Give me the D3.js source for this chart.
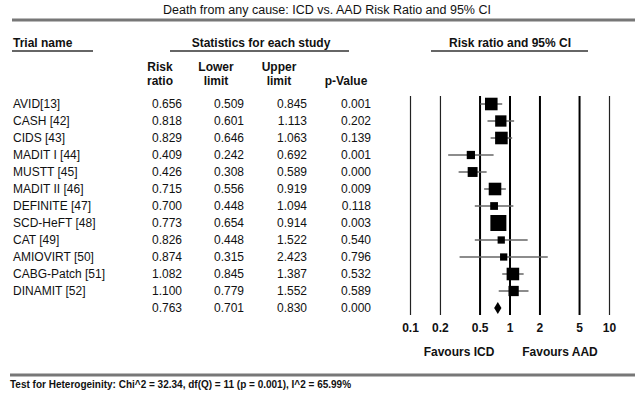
<!DOCTYPE html>
<html>
<head>
<meta charset="utf-8">
<script src="https://cdn.jsdelivr.net/npm/d3@7"></script>
<style>
  body { margin: 0; background: #fff; }
  text { font-family: "Liberation Sans", Arial, sans-serif; fill: #111; }
</style>
</head>
<body>
<div id="chart"></div>
<script>
// study data
const trials = ["AVID[13]", "CASH [42]", "CIDS [43]", "MADIT I [44]", "MUSTT [45]", "MADIT II [46]",
  "DEFINITE [47]", "SCD-HeFT [48]", "CAT [49]", "AMIOVIRT [50]", "CABG-Patch [51]", "DINAMIT [52]"];
const riskRatio = [0.656, 0.818, 0.829, 0.409, 0.426, 0.715, 0.700, 0.773, 0.826, 0.874, 1.082, 1.100];
const lowerLimit = [0.509, 0.601, 0.646, 0.242, 0.308, 0.556, 0.448, 0.654, 0.448, 0.315, 0.845, 0.779];
const upperLimit = [0.845, 1.113, 1.063, 0.692, 0.589, 0.919, 1.094, 0.914, 1.522, 2.423, 1.387, 1.552];
const pValue = [0.001, 0.202, 0.139, 0.001, 0.000, 0.009, 0.118, 0.003, 0.540, 0.796, 0.532, 0.589];
// relative weights
const weights = [10.5, 8.5, 10.5, 4.5, 6.5, 10.5, 4, 17, 3.5, 3.5, 10.5, 7];
const summary = { rr: 0.763, lo: 0.701, hi: 0.830, p: 0.000 };
const tickValues = [0.1, 0.2, 0.5, 1, 2, 5, 10];

const svg = d3.select("#chart")
  .append("svg")
  .attr("width", 635)
  .attr("height", 395);

// scales
const x = d3.scaleLog().domain([0.1, 10]).range([410, 609]);
const y = d3.scalePoint()
  .domain(d3.range(trials.length + 1))
  .range([104, 308]);
const size = d3.scaleSqrt().domain([0, d3.max(weights)]).range([0, 16]);

// title and rules
svg.append("text")
  .attr("x", 327).attr("y", 14)
  .attr("text-anchor", "middle")
  .style("font-size", "12.5px")
  .text("Death from any cause: ICD vs. AAD Risk Ratio and 95% CI");

svg.append("line")
  .attr("x1", 12).attr("x2", 635).attr("y1", 20).attr("y2", 20)
  .attr("stroke", "#777").attr("stroke-width", 3);

svg.append("line")
  .attr("x1", 10).attr("x2", 635).attr("y1", 375).attr("y2", 375)
  .attr("stroke", "#777").attr("stroke-width", 3);

// group headers with underlines
const groups = [
  { label: "Trial name", x: 13, anchor: "start", x1: 12, x2: 93 },
  { label: "Statistics for each study", x: 261, anchor: "middle", x1: 170, x2: 349 },
  { label: "Risk ratio and 95% CI", x: 510, anchor: "middle", x1: 431, x2: 588 }
];
groups.forEach(g => {
  svg.append("text")
    .attr("x", g.x).attr("y", 47)
    .attr("text-anchor", g.anchor)
    .style("font-size", "12px")
    .style("font-weight", "bold")
    .text(g.label);
  svg.append("line")
    .attr("x1", g.x1).attr("x2", g.x2).attr("y1", 51).attr("y2", 51)
    .attr("stroke", "#666").attr("stroke-width", 2);
});

// column headers
const colX = [182, 244, 307, 371];
const colHead = [["Risk", "ratio"], ["Lower", "limit"], ["Upper", "limit"], ["", "p-Value"]];
const headX = [160, 216, 279, 346];
colHead.forEach((h, i) => {
  h.forEach((line, j) => {
    svg.append("text")
      .attr("x", headX[i]).attr("y", 71 + j * 14)
      .attr("text-anchor", "middle")
      .style("font-size", "12px")
      .style("font-weight", "bold")
      .text(line);
  });
});

// table rows
const rows = trials.map((t, i) => [t, riskRatio[i], lowerLimit[i], upperLimit[i], pValue[i]]);
rows.push(["", summary.rr, summary.lo, summary.hi, summary.p]);

const row = svg.selectAll(".row")
  .data(rows)
  .enter().append("g")
  .attr("class", "row")
  .attr("transform", (d, i) => `translate(0, ${y(i) + 4})`);

row.append("text")
  .attr("x", 13)
  .style("font-size", "12px")
  .text(d => d[0]);

[1, 2, 3, 4].forEach((k, c) => {
  row.append("text")
    .attr("x", colX[c])
    .attr("text-anchor", "end")
    .style("font-size", "12px")
    .text(d => d3.format(".3f")(d[k]));
});

// axis with full-height grid lines
const axis = svg.append("g")
  .attr("transform", "translate(0, 315)")
  .call(d3.axisBottom(x)
    .tickValues(tickValues)
    .tickFormat(d3.format("~g"))
    .tickSizeInner(-219)
    .tickSizeOuter(0)
    .tickPadding(8));
axis.select(".domain").remove();
axis.selectAll(".tick line")
  .attr("stroke", d => (d >= 0.5 && d <= 5) ? "#000" : "#222")
  .attr("stroke-width", d => (d >= 0.5 && d <= 5) ? 2 : 1.2);
axis.selectAll(".tick text")
  .style("font-family", "'Liberation Sans', Arial, sans-serif")
  .style("font-size", "12px")
  .style("font-weight", "bold")
  .attr("fill", "#111");

// confidence interval lines
svg.selectAll(".ci")
  .data(trials)
  .enter().append("line")
  .attr("class", "ci")
  .attr("x1", (d, i) => x(lowerLimit[i]))
  .attr("x2", (d, i) => x(upperLimit[i]))
  .attr("y1", (d, i) => y(i))
  .attr("y2", (d, i) => y(i))
  .attr("stroke", "#666")
  .attr("stroke-width", 1.5);

// weighted squares
svg.selectAll(".box")
  .data(trials)
  .enter().append("rect")
  .attr("class", "box")
  .attr("x", (d, i) => x(riskRatio[i]) - size(weights[i]) / 2)
  .attr("y", (d, i) => y(i) - size(weights[i]) / 2)
  .attr("width", (d, i) => size(weights[i]))
  .attr("height", (d, i) => size(weights[i]))
  .attr("fill", "#000");

// summary diamond
const sy = y(trials.length);
svg.append("path")
  .attr("d", `M${x(summary.lo)},${sy} L${x(summary.rr)},${sy - 6} L${x(summary.hi)},${sy} L${x(summary.rr)},${sy + 6} Z`)
  .attr("fill", "#000");

// favours labels
svg.append("text")
  .attr("x", 459).attr("y", 356)
  .attr("text-anchor", "middle")
  .style("font-size", "12px")
  .style("font-weight", "bold")
  .text("Favours ICD");
svg.append("text")
  .attr("x", 560).attr("y", 356)
  .attr("text-anchor", "middle")
  .style("font-size", "12px")
  .style("font-weight", "bold")
  .text("Favours AAD");

// footer
svg.append("text")
  .attr("x", 10).attr("y", 388)
  .style("font-size", "10px")
  .style("font-weight", "bold")
  .text("Test for Heterogeinity: Chi^2 = 32.34, df(Q) = 11 (p = 0.001), I^2 = 65.99%");
</script>
</body>
</html>
